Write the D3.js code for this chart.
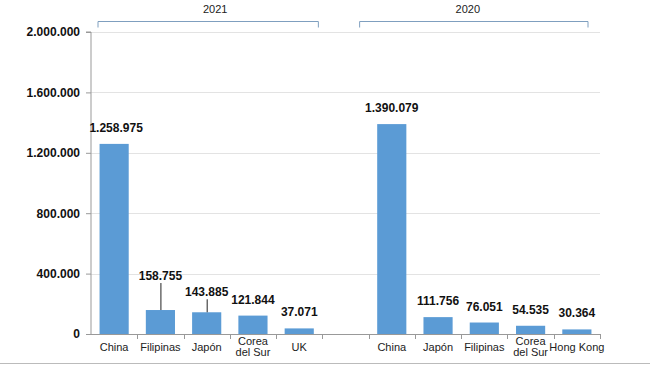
<!DOCTYPE html>
<html><head><meta charset="utf-8">
<script src="https://cdn.jsdelivr.net/npm/d3@7"></script>
<style>body{margin:0;background:#fff}svg{display:block}</style>
</head><body>
<svg id="c" width="650" height="366"></svg>
<script>
const groups = ["2021", "2020"];
const categories2021 = ["China", "Filipinas", "Japón", "Corea\ndel Sur", "UK"];
const values2021 = [1258975, 158755, 143885, 121844, 37071];
const labels2021 = ["1.258.975", "158.755", "143.885", "121.844", "37.071"];
const categories2020 = ["China", "Japón", "Filipinas", "Corea\ndel Sur", "Hong Kong"];
const values2020 = [1390079, 111756, 76051, 54535, 30364];
const labels2020 = ["1.390.079", "111.756", "76.051", "54.535", "30.364"];
const yTicks = [0, 400000, 800000, 1200000, 1600000, 2000000];
const yTickLabels = ["0", "400.000", "800.000", "1.200.000", "1.600.000", "2.000.000"];

(function () {
// layout-only: extra lift (px) for labels that use a leader line
const leaderLift = {"2021-1": 18, "2021-2": 4};

const rows = [];
categories2021.forEach((c, i) => rows.push({key: "2021-" + i, group: "2021", cat: c, v: values2021[i], label: labels2021[i]}));
const gapKey = "gap";
categories2020.forEach((c, i) => rows.push({key: "2020-" + i, group: "2020", cat: c, v: values2020[i], label: labels2020[i]}));
const domain = rows.filter(r => r.group === "2021").map(r => r.key).concat([gapKey], rows.filter(r => r.group === "2020").map(r => r.key));

const svg = d3.select("#c");
const mLeft = 91, mRight = 600, mTop = 32, mBottom = 334;
const x = d3.scaleBand().domain(domain).range([mLeft, mRight]).paddingInner(0.37).paddingOuter(0.185);
const slot = d3.scaleBand().domain(domain).range([mLeft, mRight]);
const y = d3.scaleLinear().domain([0, 2000000]).range([mBottom, mTop]);

// gridlines
svg.append("g").selectAll("line").data(yTicks.filter(t => t > 0)).join("line")
  .attr("x1", mLeft).attr("x2", mRight).attr("y1", d => Math.round(y(d)) + 0.5).attr("y2", d => Math.round(y(d)) + 0.5)
  .attr("stroke", "#e3e3e3").attr("stroke-width", 1);

// y axis
const yAxis = d3.axisLeft(y).tickValues(yTicks).tickFormat((d, i) => yTickLabels[i]).tickSize(5).tickPadding(6);
const yg = svg.append("g").attr("transform", `translate(${mLeft},0)`).call(yAxis);
yg.select(".domain").attr("stroke", "#999").attr("d", `M-5,${mTop}H0V${mBottom}`);
yg.selectAll(".tick line").attr("stroke", "#999");
yg.selectAll(".tick text").attr("font-family", "Liberation Sans, Arial, sans-serif").attr("font-weight", "bold").attr("font-size", 12).attr("fill", "#111");

// bars
svg.append("g").selectAll("rect").data(rows).join("rect")
  .attr("x", d => x(d.key)).attr("width", x.bandwidth())
  .attr("y", d => y(d.v)).attr("height", d => y(0) - y(d.v))
  .attr("fill", "#5b9bd5");

// x axis
const xg = svg.append("g");
xg.append("line").attr("x1", mLeft).attr("x2", mRight).attr("y1", mBottom + 0.5).attr("y2", mBottom + 0.5).attr("stroke", "#999");
const bounds = domain.map(k => slot(k)).concat([mRight]);
xg.selectAll("line.t").data(bounds.slice(1)).join("line").attr("class", "t")
  .attr("x1", d => Math.round(d) + 0.5).attr("x2", d => Math.round(d) + 0.5)
  .attr("y1", mBottom).attr("y2", mBottom + 5).attr("stroke", "#999");

// category labels
const cl = svg.append("g").attr("font-family", "Liberation Sans, Arial, sans-serif").attr("font-size", 11).attr("fill", "#222").attr("text-anchor", "middle");
rows.forEach(r => {
  const lines = r.cat.split("\n");
  const cx = slot(r.key) + slot.bandwidth() / 2;
  if (lines.length === 1) {
    cl.append("text").attr("x", cx).attr("y", mBottom + 17).text(lines[0]);
  } else {
    lines.forEach((ln, i) => cl.append("text").attr("x", cx).attr("y", mBottom + 10.5 + i * 11).text(ln));
  }
});

// value labels + leader lines
const vl = svg.append("g");
rows.forEach(r => {
  const cx = x(r.key) + x.bandwidth() / 2;
  const lift = leaderLift[r.key] || 0;
  const base = y(r.v) - 12 - lift;
  if (lift > 0) {
    vl.append("line").attr("x1", cx + 0.5).attr("x2", cx + 0.5)
      .attr("y1", base + 3).attr("y2", y(r.v)).attr("stroke", "#222").attr("stroke-width", 1);
  }
  vl.append("text").attr("x", cx + (r.key === "2021-0" ? 2 : 0)).attr("y", base)
    .attr("text-anchor", "middle").attr("font-family", "Liberation Sans, Arial, sans-serif")
    .attr("font-weight", "bold").attr("font-size", 12).attr("fill", "#111").text(r.label);
});

// group brackets
const br = svg.append("g");
groups.forEach(g => {
  const keys = rows.filter(r => r.group === g).map(r => r.key);
  let x0 = slot(keys[0]), x1 = slot(keys[keys.length - 1]) + slot.bandwidth();
  if (g === "2021") { x0 += 7; x1 -= 4; } else { x0 -= 9; x1 -= 12; }
  const yb = 21.5;
  br.append("path").attr("d", `M${x0},${yb + 6}V${yb}H${x1}V${yb + 6}`)
    .attr("fill", "none").attr("stroke", "#7f9fbf").attr("stroke-width", 1);
  br.append("text").attr("x", (x0 + x1) / 2 + (g === "2021" ? 7 : -6)).attr("y", 13)
    .attr("text-anchor", "middle").attr("font-family", "Liberation Sans, Arial, sans-serif")
    .attr("font-size", 11).attr("fill", "#222").text(g);
});

// bottom frame line
svg.append("line").attr("x1", 0).attr("x2", 650).attr("y1", 363.5).attr("y2", 363.5).attr("stroke", "#bbb");
})();
</script>
</body></html>
